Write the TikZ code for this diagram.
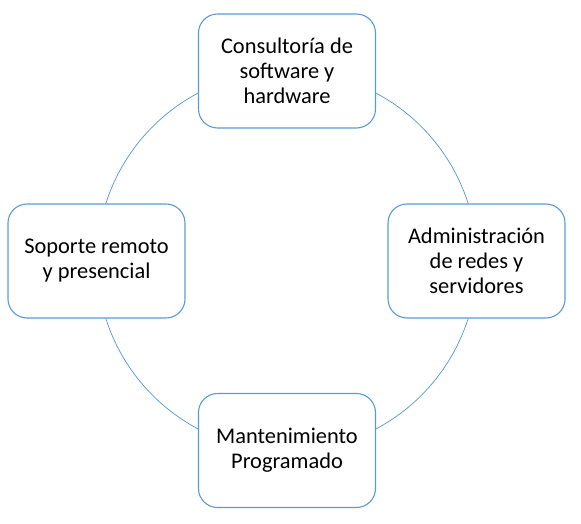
\documentclass[tikz,border=0pt]{standalone}
\usepackage{fontspec}
\setmainfont{Carlito}
\definecolor{ringblue}{HTML}{5B9BD5}

\begin{document}
\begin{tikzpicture}[x=1pt,y=-1pt,font=\fontsize{22.4}{25}\selectfont,
  servicebox/.style={draw=ringblue,line width=1.1pt,fill=white,rounded corners=19pt,
    minimum width=177pt,minimum height=114pt,align=center,inner sep=0pt}]
  \useasboundingbox (0,0) rectangle (581,524);
  \def\r{190}
  \coordinate (c) at (287,261);
  \draw[ringblue,line width=0.75pt] (c) circle[radius=\r];
  \node[servicebox] (consult) at (287,71) {Consultoría de\\software y\\hardware};
  \node[servicebox] (redes) at (476.5,261) {Administración\\de redes y\\servidores};
  \node[servicebox] (mant) at (287,450.5) {Mantenimiento\\Programado};
  \node[servicebox] (soporte) at (96.5,261) {Soporte remoto\\y presencial};
\end{tikzpicture}
\end{document}
